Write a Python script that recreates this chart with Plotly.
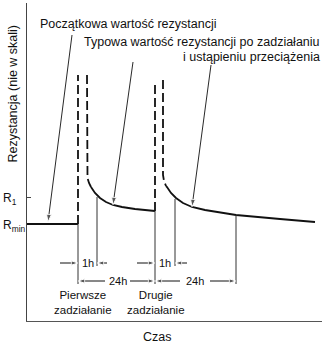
import plotly.graph_objects as go

# Schematic chart (not to scale): t = time units, r = resistance units
R_MIN = 97
R_1 = 124

# resistance curve pieces
init_t = [0, 51]
init_r = [97, 97]

jump1a_t = [51, 51]
jump1a_r = [97, 246]
jump1b_t = [60, 60, 60.5, 62, 64]
jump1b_r = [246, 151, 143, 138, 134]
decay1_t = [64, 68, 73, 79, 86, 95, 108, 128]
decay1_r = [134, 128, 123, 119, 116, 114, 112, 110]

jump2a_t = [128, 128]
jump2a_r = [110, 237]
jump2b_t = [136, 136, 137, 139]
jump2b_r = [241, 146, 140, 135]
decay2_t = [139, 140, 144, 149, 156, 165, 178, 209, 253, 288]
decay2_r = [135, 134, 128, 123, 118, 114, 111, 106, 102, 99]

# thin extension lines
ext_t = [51, 70, 128, 148, 209]
ext_top = [97, 124, 110, 122, 106]
ext_bottom = [37, 55, 37, 55, 37]

# pointer arrows (label -> curve)
ptr_tail_t = [45, 106, 184]
ptr_tail_r = [286, 259, 256]
ptr_head_t = [21, 86, 165]
ptr_head_r = [99, 116, 114]

# dimension arrows
dim_tail_t = [33, 80, 110, 160, 78, 103, 153, 183]
dim_tail_r = [58, 58, 58, 58, 40, 40, 40, 40]
dim_head_t = [51, 70, 128, 148, 51, 128, 128, 209]
dim_head_r = [58, 58, 58, 58, 40, 40, 40, 40]

dim_labels = ["1h", "1h", "24h", "24h"]
dim_label_t = [60.5, 138, 90.5, 168]
dim_label_r = [58, 58, 40, 40]

FONT = "Liberation Sans, Arial, sans-serif"
BLACK = "#111111"

fig = go.Figure()

def line(t, r, width, dash="solid", color=BLACK):
    fig.add_trace(go.Scatter(x=t, y=r, mode="lines", cliponaxis=False,
                             line=dict(color=color, width=width, dash=dash),
                             hoverinfo="skip", showlegend=False))

DASH = "9px,4px"
line(init_t, init_r, 1.8)
line(jump1a_t, jump1a_r, 1.8, DASH)
line(jump1b_t, jump1b_r, 1.8, DASH)
line(decay1_t, decay1_r, 1.8)
line(jump2a_t, jump2a_r, 1.8, DASH)
line(jump2b_t, jump2b_r, 1.8, DASH)
line(decay2_t, decay2_r, 1.8)

for t, a, b in zip(ext_t, ext_top, ext_bottom):
    line([t, t], [a, b], 1, color="#333333")

def arrow(t0, r0, t1, r1, size, width):
    fig.add_trace(go.Scatter(x=[t0, t1], y=[r0, r1], mode="lines+markers",
                             cliponaxis=False,
                             line=dict(color=BLACK, width=width),
                             marker=dict(symbol="arrow", size=[0, size], color=BLACK,
                                         angleref="previous"),
                             hoverinfo="skip", showlegend=False))

for a, b, c, d in zip(ptr_tail_t, ptr_tail_r, ptr_head_t, ptr_head_r):
    arrow(a, b, c, d, 8, 0.9)
for a, b, c, d in zip(dim_tail_t, dim_tail_r, dim_head_t, dim_head_r):
    arrow(a, b, c, d, 7, 1)

ann = []
def text(s, x, y, size=12, xanchor="center", yanchor="middle",
         xref="x", yref="y", angle=0):
    ann.append(dict(text=s, x=x, y=y, xref=xref, yref=yref, showarrow=False,
                    xanchor=xanchor, yanchor=yanchor, textangle=angle,
                    font=dict(family=FONT, size=size, color=BLACK)))

for s, x, y in zip(dim_labels, dim_label_t, dim_label_r):
    text(s, x, y, size=11)

text("Początkowa wartość rezystancji", 11, 297, size=12.5, xanchor="left")
text("Typowa wartość rezystancji po zadziałaniu", 295, 279, size=12.5, xanchor="right")
text("i ustąpieniu przeciążenia", 295, 264, size=12.5, xanchor="right")
text("Pierwsze<br>zadziałanie", 56, 18.5, size=11.5)
text("Drugie<br>zadziałanie", 129, 18.5, size=11.5)
text("Czas", 130, -0.05, size=12.5, yref="paper")
text("R<sub>1</sub>", -0.088, R_1 - 2, size=12, xanchor="left", xref="paper")
text("R<sub>min</sub>", -0.088, R_MIN - 2, size=12, xanchor="left", xref="paper")
text("Rezystancja (nie w skali)", -0.049, 227, size=12.5, xref="paper", angle=-90)

fig.update_layout(
    width=328, height=354,
    margin=dict(l=27, r=6, t=3, b=33),
    paper_bgcolor="white", plot_bgcolor="white",
    annotations=ann,
    xaxis=dict(range=[0, 295], showline=True, linecolor="#555555", linewidth=1,
               showgrid=False, zeroline=False, showticklabels=False, ticks=""),
    yaxis=dict(range=[0, 318], showline=True, linecolor="#444444", linewidth=1,
               showgrid=False, zeroline=False, showticklabels=False,
               tickvals=[R_1], ticks="inside", ticklen=4, tickcolor="#444444"),
)

fig.write_html("out.html")
